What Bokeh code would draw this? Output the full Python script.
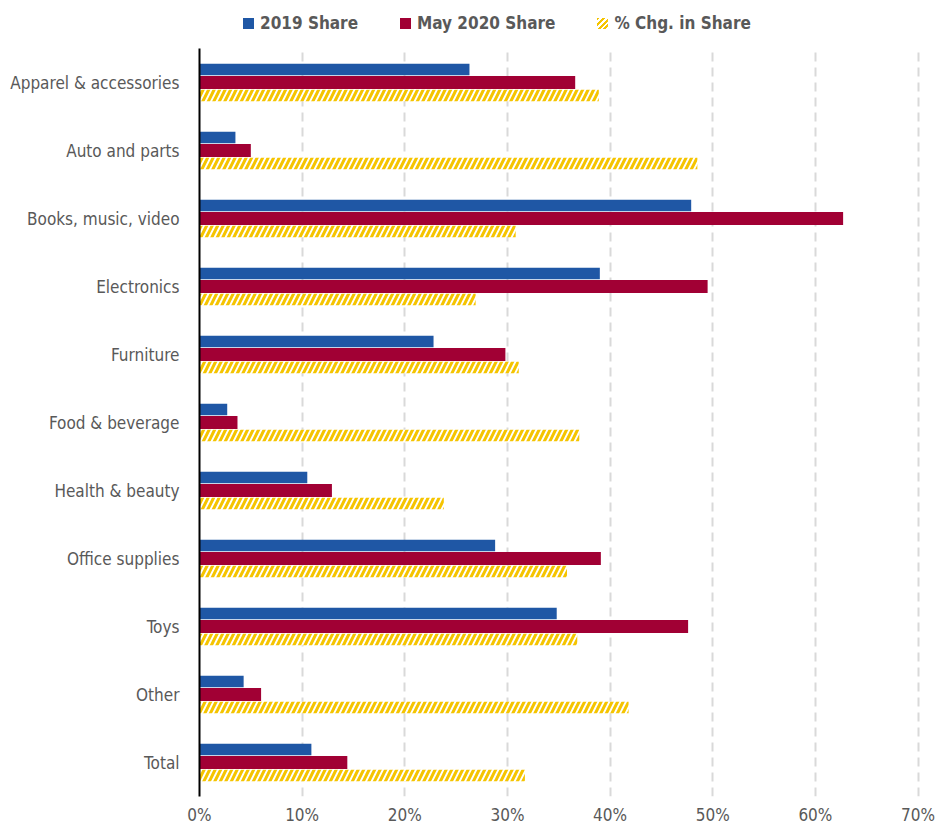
from bokeh.plotting import figure
from bokeh.models import (ColumnDataSource, Range1d, FactorRange, FixedTicker,
                          PrintfTickFormatter, Div)
from bokeh.layouts import column
from bokeh.transform import dodge
from bokeh.embed import file_html
from bokeh.resources import INLINE

categories = ["Apparel & accessories", "Auto and parts", "Books, music, video", "Electronics",
              "Furniture", "Food & beverage", "Health & beauty", "Office supplies", "Toys",
              "Other", "Total"]
share_2019 = [26.3, 3.5, 47.9, 39.0, 22.8, 2.7, 10.5, 28.8, 34.8, 4.3, 10.9]
share_may2020 = [36.6, 5.0, 62.7, 49.5, 29.8, 3.7, 12.9, 39.1, 47.6, 6.0, 14.4]
chg_share = [38.9, 48.5, 30.8, 26.9, 31.1, 37.0, 23.8, 35.8, 36.8, 41.8, 31.7]
x_ticks = [0, 10, 20, 30, 40, 50, 60, 70]
series_labels = ["2019 Share", "May 2020 Share", "% Chg. in Share"]

BLUE = "#1F57A5"
RED = "#A10034"
YELLOW = "#F5C400"
GREY = "#595959"
FONT = "DejaVu Sans Condensed, Roboto, sans-serif"

src = ColumnDataSource(dict(cat=categories, s19=share_2019, s20=share_may2020, chg=chg_share))

p = figure(width=935, height=782,
           y_range=FactorRange(factors=list(reversed(categories))),
           x_range=Range1d(0, 71.7),
           output_backend="svg", toolbar_location=None,
           min_border_left=199, min_border_top=0, min_border_bottom=34, min_border_right=0)
p.outline_line_color = None
p.background_fill_color = "white"

r1 = p.hbar(y=dodge('cat', 0.19, range=p.y_range), left=0, right='s19', height=0.17,
            fill_color=BLUE, line_color=None, source=src)
r2 = p.hbar(y=dodge('cat', 0.0, range=p.y_range), left=0, right='s20', height=0.19,
            fill_color=RED, line_color=None, source=src)
r3 = p.hbar(y=dodge('cat', -0.19, range=p.y_range), left=0, right='chg', height=0.17,
            fill_color="white", line_color=None, hatch_pattern="/", hatch_color=YELLOW,
            hatch_scale=11, hatch_weight=3, source=src)

# axes
p.yaxis.axis_line_color = "black"
p.yaxis.axis_line_width = 2
p.yaxis.major_tick_line_color = None
p.yaxis.minor_tick_line_color = None
p.yaxis.major_label_text_color = GREY
p.yaxis.major_label_text_font = FONT
p.yaxis.major_label_text_font_size = "17px"
p.yaxis.major_label_standoff = 14

p.xaxis.axis_line_color = None
p.xaxis.major_tick_line_color = None
p.xaxis.minor_tick_line_color = None
p.xaxis.ticker = FixedTicker(ticks=x_ticks)
p.xaxis.formatter = PrintfTickFormatter(format="%d%%")
p.xaxis.major_label_text_color = GREY
p.xaxis.major_label_text_font = FONT
p.xaxis.major_label_text_font_size = "17px"
p.xaxis.major_label_standoff = 2

p.ygrid.grid_line_color = None
p.xgrid.ticker = FixedTicker(ticks=x_ticks)
p.xgrid.grid_line_color = "#D9D9D9"
p.xgrid.grid_line_width = 2
p.xgrid.grid_line_dash = "9 6"

# legend row above the plot
swatches = [
    "background:%s;" % BLUE,
    "background:%s;" % RED,
    "background:repeating-linear-gradient(135deg,%s 0px,%s 2px,#ffffff 2px,#ffffff 4px);" % (YELLOW, YELLOW),
]
parts = []
for i, (lab, sw) in enumerate(zip(series_labels, swatches)):
    gap = "" if i == 0 else "margin-left:42px;"
    parts.append(
        '<span style="display:inline-block;width:11px;height:11px;vertical-align:middle;'
        'margin-right:6px;%s%s"></span><span style="vertical-align:middle;">%s</span>'
        % (gap, sw, lab))
legend_html = (
    '<div style="font-family:\'DejaVu Sans Condensed\',Roboto,sans-serif;font-weight:bold;'
    'font-size:17px;line-height:20px;color:%s;padding-left:243px;padding-top:12px;'
    'white-space:nowrap;">%s</div>' % (GREY, "".join(parts)))
legend_div = Div(text=legend_html, width=935, height=48, margin=0)

layout = column(legend_div, p, spacing=0)

open("out.html", "w").write(file_html(layout, INLINE))
